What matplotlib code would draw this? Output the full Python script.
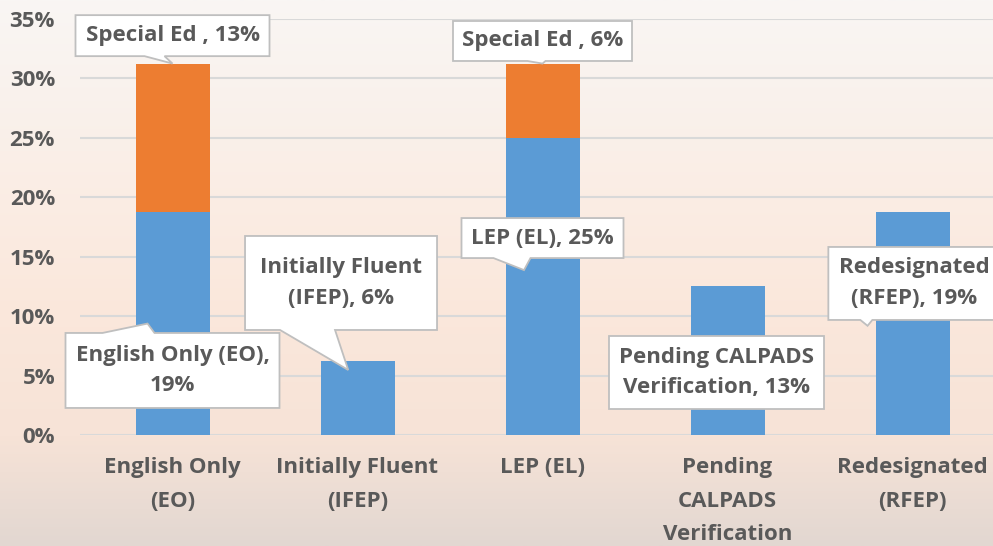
import matplotlib.pyplot as plt
import numpy as np
from matplotlib.colors import LinearSegmentedColormap
from matplotlib.patches import Polygon

plt.rcParams['font.family'] = ['Open Sans', 'DejaVu Sans']
plt.rcParams['font.weight'] = 'bold'

categories = ["English Only\n(EO)", "Initially Fluent\n(IFEP)", "LEP (EL)",
              "Pending\nCALPADS\nVerification", "Redesignated\n(RFEP)"]
label_names = ["English Only (EO),\n", "Initially Fluent\n(IFEP), ", "LEP (EL), ",
               "Pending CALPADS\nVerification, ", "Redesignated\n(RFEP), "]
base_pct = [18.75, 6.25, 25.0, 12.5, 18.75]
sped_pct = [12.5, 0.0, 6.25, 0.0, 0.0]
sped_name = "Special Ed , "

BLUE = "#5B9BD5"
ORANGE = "#ED7D31"
TEXT = "#595959"


def pct_label(v):
    # round half up like the spreadsheet does
    return f"{int(v + 0.5)}%"


fig = plt.figure(figsize=(9.93, 5.46), dpi=100)

# soft vertical gradient behind everything
bg = fig.add_axes([0, 0, 1, 1], zorder=-10)
bg.axis("off")
cmap = LinearSegmentedColormap.from_list(
    "bg", [(0.0, "#F9F6F4"), (0.55, "#FBE8DC"), (0.8, "#F7E3D7"), (1.0, "#E2D7D1")])
bg.imshow(np.linspace(0, 1, 256).reshape(-1, 1), aspect="auto", cmap=cmap,
          extent=[0, 1, 0, 1])

W, H = 993, 546
ax = fig.add_axes([80 / W, (H - 435) / H, 925 / W, 416 / H])
ax.set_facecolor("none")

x = np.arange(len(categories))
ax.bar(x, base_pct, width=0.4, color=BLUE, zorder=2)
ax.bar(x, sped_pct, width=0.4, bottom=base_pct, color=ORANGE, zorder=2)

ax.set_xlim(-0.5, 4.5)
ax.set_ylim(0, 35)
ax.set_yticks(np.arange(0, 36, 5))
ax.set_yticklabels([f"{t}%" for t in range(0, 36, 5)], fontweight="bold")
ax.set_xticks(x)
ax.set_xticklabels(categories, linespacing=1.78, fontweight="bold")
ax.tick_params(axis="y", length=0, pad=18, labelsize=16, labelcolor=TEXT)
ax.tick_params(axis="x", length=0, pad=16, labelsize=16, labelcolor=TEXT)
ax.grid(axis="y", color="#D9D9D9", lw=1.5, zorder=0)
ax.set_axisbelow(True)
for s in ax.spines.values():
    s.set_visible(False)

# callouts: (text, box center x, box center y %, box w px, box h px,
#            tip bar index, tip dx, tip y %, base offsets px)
callouts = [
    (sped_name + pct_label(sped_pct[0]), 0.0, 33.6, 194, 41,
     0, 0.0, base_pct[0] + sped_pct[0], (-28, -8)),
    (sped_name + pct_label(sped_pct[2]), 2.0, 33.15, 179, 40,
     2, 0.0, base_pct[2] + sped_pct[2], (-15, 3)),
    (label_names[2] + pct_label(base_pct[2]), 2.0, 16.57, 162, 40,
     2, -0.10, base_pct[2] * 0.555, (-49, -12)),
    (label_names[1] + pct_label(base_pct[1]), 0.911, 12.79, 192, 94,
     1, -0.05, base_pct[1] * 0.875, (-61, -6)),
    (label_names[0] + pct_label(base_pct[0]), 0.0, 5.43, 214, 75,
     0, -0.135, base_pct[0] * 0.5, (-70, -18)),
    (label_names[3] + pct_label(base_pct[3]), 2.94, 5.26, 215, 73,
     None, 0, 0, None),
    (label_names[4] + pct_label(base_pct[4]), 4.01, 12.75, 172, 73,
     4, -0.243, base_pct[4] * 0.49, (-54, -42)),
]

to_disp = ax.transData.transform
to_data = ax.transData.inverted().transform

for text, cx, cy, bw, bh, ti, tdx, ty, base in callouts:
    c = to_disp((cx, cy))
    l, r = c[0] - bw / 2, c[0] + bw / 2
    b, t = c[1] - bh / 2, c[1] + bh / 2
    if ti is None:
        pts = [(l, t), (r, t), (r, b), (l, b)]
    else:
        tip = to_disp((ti + tdx, ty))
        b0, b1 = c[0] + base[0], c[0] + base[1]
        if tip[1] < b:
            pts = [(l, t), (r, t), (r, b), (b1, b), tuple(tip), (b0, b), (l, b)]
        else:
            pts = [(l, t), (b0, t), tuple(tip), (b1, t), (r, t), (r, b), (l, b)]
    poly = Polygon(to_data(np.array(pts)), closed=True, facecolor="white",
                   edgecolor="#BFBFBF", lw=1.3, joinstyle="miter", zorder=4,
                   clip_on=False)
    ax.add_patch(poly)
    ax.text(cx, cy, text, ha="center", va="center", fontsize=16,
            fontweight="bold", color=TEXT, linespacing=1.62, zorder=5)

fig.savefig("out.png", dpi=100)
